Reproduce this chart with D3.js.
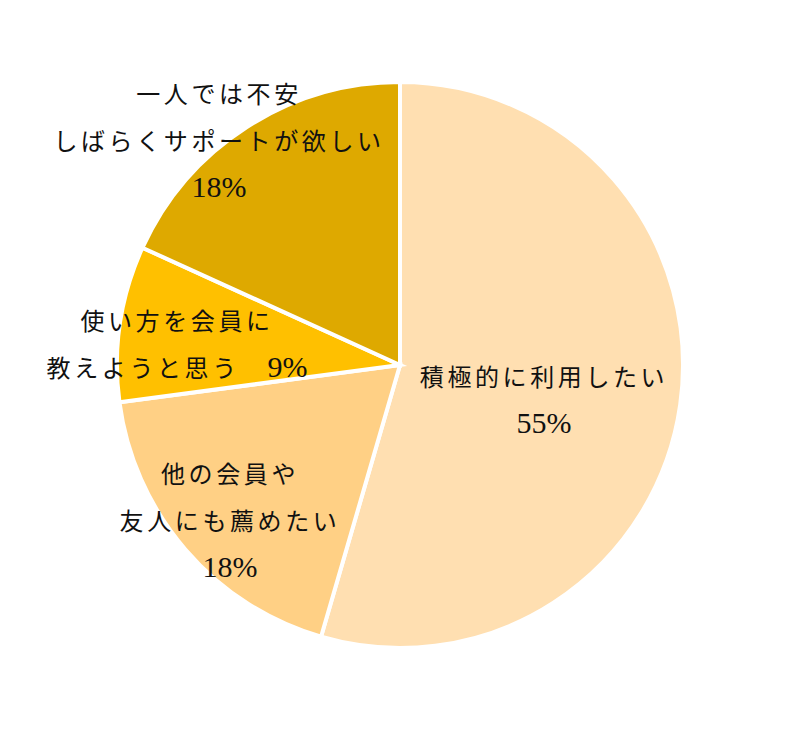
<!DOCTYPE html>
<html>
<head>
<meta charset="utf-8">
<script src="https://cdn.jsdelivr.net/npm/d3@7"></script>
<style>
  body { margin: 0; background: #fff; }
  svg text { font-family: "Noto Sans CJK JP", sans-serif; fill: #111; }
  svg tspan.num { font-family: "Liberation Serif", serif; font-size: 30px; letter-spacing: 0; }
</style>
</head>
<body>
<div id="chart"></div>
<script>
const categories = [
  ["積極的に利用したい"],
  ["他の会員や", "友人にも薦めたい"],
  ["使い方を会員に", "教えようと思う"],
  ["一人では不安", "しばらくサポートが欲しい"]
];
const values = [54.5, 18.4, 8.9, 18.2];
const percentLabels = ["55%", "18%", "9%", "18%"];
const colors = ["#FFDFB1", "#FFD085", "#FFC000", "#DEA900"];

// label block centres (layout only)
const labelPos = [[544, 377], [230, 474], [177, 321], [219, 94]];

const width = 800, height = 731;
const cx = 400, cy = 365, radius = 283;
const lineGap = 47;

const svg = d3.select("#chart").append("svg")
  .attr("width", width)
  .attr("height", height);

const g = svg.append("g")
  .attr("transform", `translate(${cx},${cy})`);

const pie = d3.pie().sort(null).value(d => d)(values);
const arc = d3.arc().innerRadius(0).outerRadius(radius);

g.selectAll("path")
  .data(pie)
  .enter().append("path")
  .attr("d", arc)
  .style("fill", (d, i) => colors[i])
  .style("stroke", "#fff")
  .style("stroke-width", 4)
  .style("stroke-linejoin", "miter");

const labels = svg.append("g");

function addLine(x, y, parts) {
  const t = labels.append("text")
    .attr("x", x)
    .attr("y", y)
    .attr("dy", "0.36em")
    .style("text-anchor", "middle")
    .style("font-size", "24px")
    .style("letter-spacing", "3.6px");
  parts.forEach(p => {
    t.append("tspan")
      .attr("class", p.num ? "num" : null)
      .text(p.text);
  });
}

categories.forEach((lines, i) => {
  const [x, y] = labelPos[i];
  if (i === 2) {
    // percentage sits on the second line here
    addLine(x, y, [{ text: lines[0] }]);
    addLine(x, y + lineGap, [{ text: lines[1] + "\u3000" }, { text: percentLabels[i], num: true }]);
  } else {
    lines.forEach((l, j) => addLine(x, y + j * lineGap, [{ text: l }]));
    addLine(x, y + lines.length * lineGap, [{ text: percentLabels[i], num: true }]);
  }
});
</script>
</body>
</html>
